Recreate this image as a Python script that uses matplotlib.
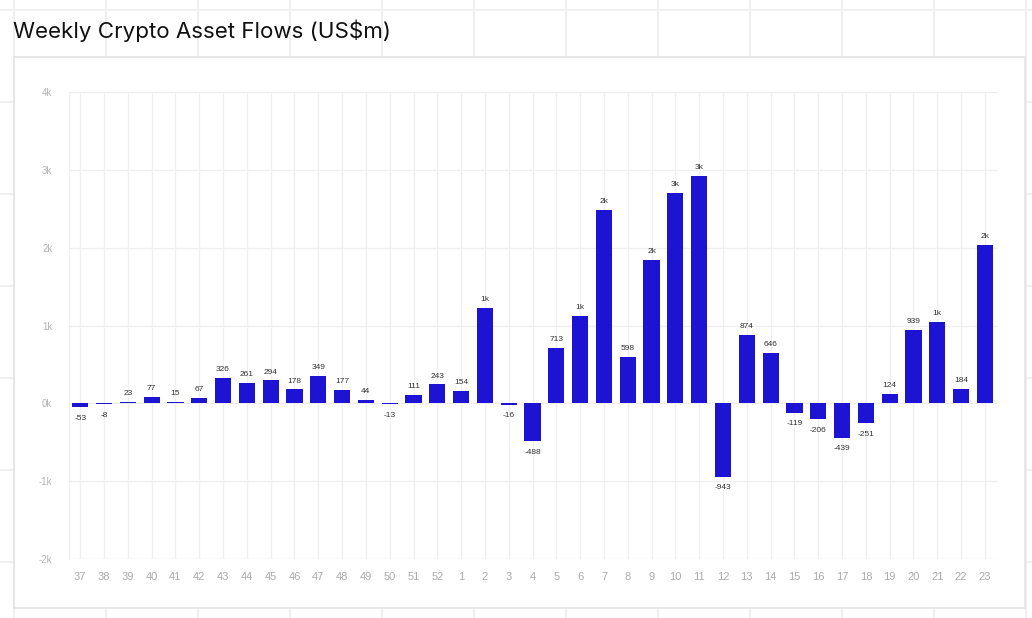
import matplotlib
matplotlib.use("Agg")
import matplotlib.pyplot as plt
from matplotlib.patches import Rectangle

# week numbers and net flows (US$m)
weeks = [37, 38, 39, 40, 41, 42, 43, 44, 45, 46, 47, 48, 49, 50, 51, 52,
         1, 2, 3, 4, 5, 6, 7, 8, 9, 10, 11, 12, 13, 14, 15, 16, 17, 18, 19, 20, 21, 22, 23]
flows = [-53, -8, 23, 77, 15, 67, 326, 261, 294, 178, 349, 177, 44, -13, 111, 243,
         154, 1224, -16, -488, 713, 1122, 2480, 598, 1846, 2702, 2925, -943, 874, 646,
         -119, -206, -439, -251, 124, 939, 1050, 184, 2034]
yticks = [-2000, -1000, 0, 1000, 2000, 3000, 4000]
ytick_labels = ["-2k", "-1k", "0k", "1k", "2k", "3k", "4k"]

W, H = 1032, 618
fig = plt.figure(figsize=(W / 100, H / 100), dpi=100)
fig.patch.set_facecolor("white")

# page background with faint grid, in pixel coords
bg = fig.add_axes([0, 0, 1, 1], zorder=0)
bg.set_xlim(0, W)
bg.set_ylim(H, 0)
bg.axis("off")
grid_c = "#ececec"
for gx in range(14, W, 92):
    bg.plot([gx, gx], [0, H], color=grid_c, lw=1.2)
for gy in range(10, H, 92):
    bg.plot([0, W], [gy, gy], color=grid_c, lw=1.2)
bg.add_patch(Rectangle((14, 57), 1011, 551, facecolor="white", edgecolor="#e4e4e4", lw=1.2, zorder=3))
bg.text(13, 31, r"Weekly Crypto Asset Flows (US\$m)", fontsize=16.1, family="Inter",
        color="#111111", va="center", ha="left", zorder=4)

# main chart
ax = fig.add_axes([69 / W, (H - 559) / H, (998 - 69) / W, (559 - 92) / H], zorder=2)
ax.patch.set_alpha(0)
x = list(range(len(weeks)))
ax.bar(x, flows, width=0.68, color="#1d13d2", zorder=3)

for xi, v in zip(x, flows):
    lab = f"{round(v / 1000)}k" if abs(v) >= 1000 else str(v)
    if v >= 0:
        ax.annotate(lab, (xi, v), xytext=(0, 3.5), textcoords="offset points",
                    ha="center", va="bottom", fontsize=6, color="#333333",
                    family="Liberation Sans")
    else:
        ax.annotate(lab, (xi, v), xytext=(0, -5.5), textcoords="offset points",
                    ha="center", va="top", fontsize=6, color="#333333",
                    family="Liberation Sans")

ax.set_xlim(-0.47, len(weeks) - 0.45)
ax.set_ylim(-2000, 4000)
ax.set_yticks(yticks)
ax.set_yticklabels(ytick_labels)
ax.set_xticks(x)
ax.set_xticklabels([str(w) for w in weeks])
ax.tick_params(axis="y", length=0, pad=12, labelsize=7, labelcolor="#b5b5b5")
ax.tick_params(axis="x", length=0, pad=9, labelsize=8, labelcolor="#ababab")
for lab in ax.get_xticklabels() + ax.get_yticklabels():
    lab.set_family("Liberation Sans")

ax.grid(True, color="#efefef", lw=0.9, zorder=0)
ax.set_axisbelow(True)
for s in ["top", "right", "bottom"]:
    ax.spines[s].set_visible(False)
ax.spines["left"].set_color("#efefef")

fig.savefig("out.png", dpi=100)
